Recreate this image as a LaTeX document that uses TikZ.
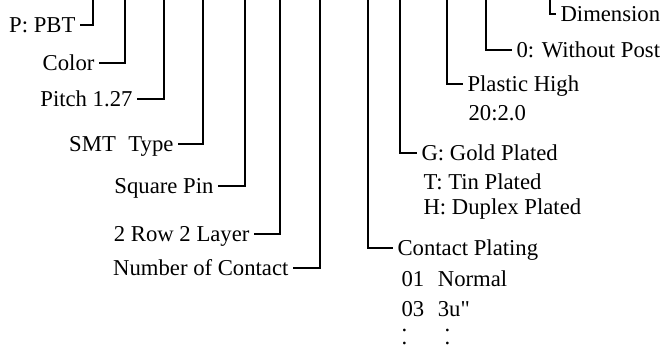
\documentclass[tikz,border=0pt]{standalone}
\usepackage{fontspec}
\setmainfont{Liberation Serif}
\newfontfamily\rawserif{Liberation Serif}
\usetikzlibrary{positioning}
\tikzset{lbl/.style={font=\fontsize{22.7}{26}\selectfont,inner xsep=4pt,inner ysep=0pt,
  text height=15pt,text depth=0pt},
  dotrows/.style={font=\fontsize{22.7}{13}\selectfont,inner sep=0pt,align=left}}

\begin{document}
\begin{tikzpicture}[x=1pt,y=-1pt,line width=1.1pt]
\useasboundingbox (0,0) rectangle (665,349);
% left labels
\node[lbl,anchor=east] (pbt) at (80,25) {P: PBT};
\node[lbl,anchor=east] (color) at (99,63) {Color};
\node[lbl,anchor=east] (pitch) at (137,99) {Pitch 1.27};
\node[lbl,anchor=east] (smt) at (178,144) {SMT\hspace{0.55em}Type};
\node[lbl,anchor=east] (sqpin) at (218,186) {Square Pin};
\node[lbl,anchor=east] (row) at (254,234) {2 Row 2 Layer};
\node[lbl,anchor=east] (noc) at (293,268) {Number of Contact};
% right labels
\node[lbl,anchor=west] (dim) at (556,14) {Dimension};
\node[lbl,anchor=west] (post) at (512,50) {0: Without Post};
\node[lbl,anchor=west] (plastic) at (463,84) {Plastic High};
\node[lbl,anchor=west] (gold) at (417,153) {G: Gold Plated};
\node[lbl,anchor=west] (plating) at (393,248) {Contact Plating};
% extra lines
\node[lbl,anchor=west] (high) at (464,112.5) {20:2.0};
\node[lbl,anchor=west] (tin) at (419,181.5) {T: Tin Plated};
\node[lbl,anchor=west] (duplex) at (419,206.5) {H: Duplex Plated};
\node[lbl,anchor=west] (normal) at (397,278.5) {\makebox[1.6em][l]{01}Normal};
\node[lbl,anchor=west] (thru) at (397,308.5) {\makebox[1.6em][l]{03}{\rawserif 3u"}};
\node[dotrows,anchor=south west] (dots) at (401,345) {\makebox[1.9em][l]{.}.\\\makebox[1.9em][l]{.}.};
% top ends
\coordinate (t1) at (93,0);
\coordinate (t2) at (125,0);
\coordinate (t3) at (164,0);
\coordinate (t4) at (203,0);
\coordinate (t5) at (245,0);
\coordinate (t6) at (280,0);
\coordinate (t7) at (320,0);
\coordinate (t8) at (368,0);
\coordinate (t9) at (400,0);
\coordinate (t10) at (447,0);
\coordinate (t11) at (486,0);
\coordinate (t12) at (550,0);
\draw (t1) |- (pbt);
\draw (t2) |- (color);
\draw (t3) |- (pitch);
\draw (t4) |- (smt);
\draw (t5) |- (sqpin);
\draw (t6) |- (row);
\draw (t7) |- (noc);
\draw (t8) |- (plating);
\draw (t9) |- (gold);
\draw (t10) |- (plastic);
\draw (t11) |- (post);
\draw (t12) |- (dim);
\end{tikzpicture}
\end{document}
